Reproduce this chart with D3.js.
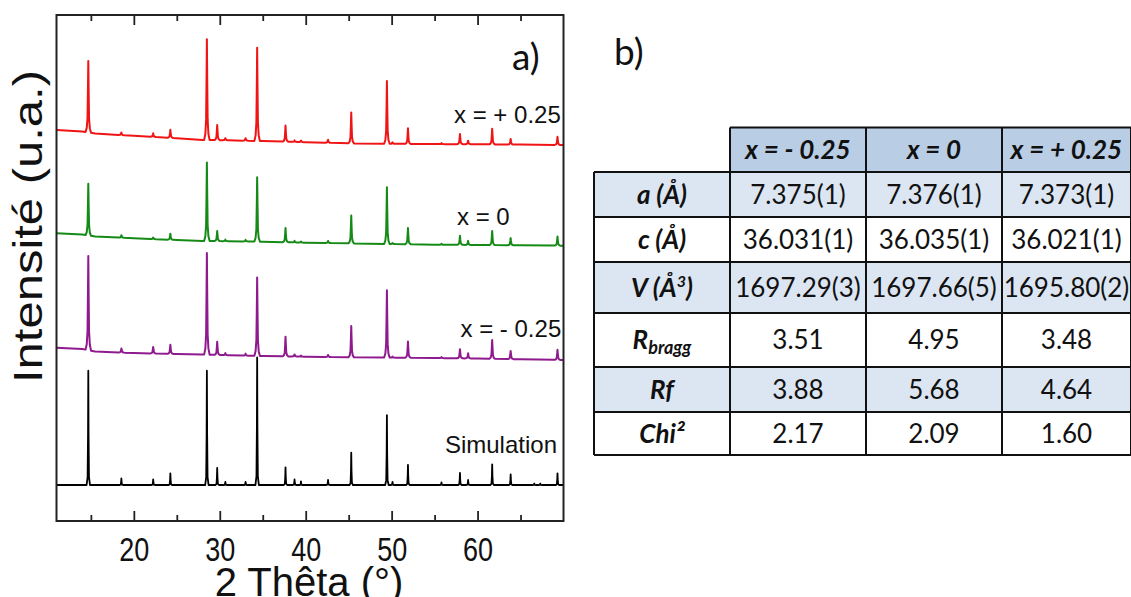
<!DOCTYPE html>
<html>
<head>
<meta charset="utf-8">
<script src="https://cdn.jsdelivr.net/npm/d3@7"></script>
<style>
  html, body { margin: 0; padding: 0; background: #fff; }
  svg { display: block; }
</style>
</head>
<body>
<svg id="chart" width="1131" height="597"></svg>
<script>
// ---------------- DATA ----------------
// Peak positions (2 Theta, degrees)
const twoTheta = [14.7, 18.55, 22.25, 24.25, 28.5, 29.7, 30.65, 33.0, 34.35, 37.65, 38.7, 39.45, 42.6, 45.3, 49.45, 50.1, 51.9, 55.8, 57.95, 58.9, 61.7, 63.85, 66.6, 67.3, 69.3];
// Peak heights above background (a.u.) for each pattern
const simHeights   = [22.6, 1.3, 1.1, 2.3, 22.6, 3.4, 0.6, 0.6, 25.2, 3.5, 1.1, 0.7, 1.0, 6.4, 13.8, 0.6, 4.0, 0.5, 2.4, 1.0, 4.1, 2.1, 0.3, 0.3, 2.3];
const minusHeights = [18.6, 0.8, 1.3, 1.8, 20.1, 2.6, 0.4, 0.4, 15.5, 3.9, 0.4, 0.2, 0.4, 6.2, 13.3, 0.2, 3.2, 0.2, 1.8, 1.0, 3.7, 1.6, 0, 0, 2.0];
const zeroHeights  = [10.2, 0.5, 0.3, 1.2, 15.5, 2.0, 0.3, 0.3, 12.7, 2.8, 0.3, 0.2, 0.4, 5.5, 11.2, 0.2, 3.2, 0.2, 1.8, 0.8, 2.8, 1.4, 0, 0, 1.8];
const plusHeights  = [14.1, 0.5, 0.7, 1.6, 19.9, 3.0, 0.4, 0.5, 18.4, 3.2, 0.3, 0.3, 0.6, 6.1, 12.4, 0.3, 3.1, 0.2, 2.0, 0.7, 3.1, 1.1, 0, 0, 1.6];
// Background (stacked offset included), read at these 2 Theta positions
const bgTheta = [11, 14, 15.5, 20, 25, 28, 31, 35, 40, 45, 50, 55, 60, 65, 70];
const simBg   = [7.11, 7.11, 7.11, 7.11, 7.11, 7.11, 7.11, 7.11, 7.11, 7.11, 7.11, 7.11, 7.11, 7.11, 7.11];
const minusBg = [34.25, 33.99, 33.50, 33.20, 33.00, 32.89, 32.77, 32.61, 32.47, 32.35, 32.29, 32.21, 32.11, 31.96, 31.82];
const zeroBg  = [56.86, 56.62, 56.23, 55.87, 55.53, 55.34, 55.30, 55.20, 55.00, 54.88, 54.74, 54.61, 54.55, 54.49, 54.41];
const plusBg  = [77.27, 76.98, 76.58, 76.13, 75.65, 75.30, 75.24, 75.08, 74.86, 74.64, 74.55, 74.49, 74.45, 74.39, 74.31];
const seriesLabels = ["Simulation", "x = - 0.25", "x = 0", "x = + 0.25"];
const majorTicks = [20, 30, 40, 50, 60];
const minorTicks = [15, 25, 35, 45, 55, 65];

// Table
const tableHeaders = ["x = - 0.25", "x = 0", "x = + 0.25"];
const rowLabels = [
  [{t: "a (Å)"}],
  [{t: "c (Å)"}],
  [{t: "V (Å"}, {t: "3", sup: true}, {t: ")"}],
  [{t: "R"}, {t: "bragg", sub: true}],
  [{t: "Rf"}],
  [{t: "Chi²"}]
];
const aParam   = ["7.375(1)", "7.376(1)", "7.373(1)"];
const cParam   = ["36.031(1)", "36.035(1)", "36.021(1)"];
const vParam   = ["1697.29(3)", "1697.66(5)", "1695.80(2)"];
const rBragg   = ["3.51", "4.95", "3.48"];
const rF       = ["3.88", "5.68", "4.64"];
const chi2     = ["2.17", "2.09", "1.60"];

// ---------------- LAYOUT ----------------
const svg = d3.select("#chart");
const P = {left: 56.5, right: 563.5, top: 15, bottom: 521};
const x = d3.scaleLinear().domain([11, 70]).range([P.left, P.right]);
const y = d3.scaleLinear().domain([0, 100]).range([P.bottom, P.top]);

svg.append("defs").append("clipPath").attr("id", "plotclip")
  .append("rect").attr("x", P.left).attr("y", P.top)
  .attr("width", P.right - P.left).attr("height", P.bottom - P.top);

const expShape = [[-0.32, 0], [-0.18, 0.06], [-0.09, 0.2], [-0.04, 0.6], [0, 1], [0.04, 0.6], [0.09, 0.2], [0.18, 0.06], [0.32, 0]];
const simShape = [[-0.2, 0], [-0.08, 0.07], [-0.03, 0.45], [0, 1], [0.03, 0.45], [0.08, 0.07], [0.2, 0]];

function buildTrace(heights, bgVals, shape) {
  const bg = d3.scaleLinear().domain(bgTheta).range(bgVals);
  const lo = shape[0][0], hi = shape[shape.length - 1][0];
  const pts = [];
  bgTheta.forEach((t, i) => {
    const inside = twoTheta.some((p, j) => heights[j] > 0 && t >= p + lo && t <= p + hi);
    if (!inside) pts.push([t, bgVals[i]]);
  });
  twoTheta.forEach((p, i) => {
    if (heights[i] <= 0) return;
    shape.forEach(([dx, f]) => pts.push([p + dx, bg(p + dx) + f * heights[i]]));
  });
  pts.sort((a, b) => a[0] - b[0]);
  return pts;
}

const line = d3.line().x(d => x(d[0])).y(d => y(d[1]));
const series = [
  {h: simHeights, bg: simBg, color: "#000000", shape: simShape, w: 1.8},
  {h: minusHeights, bg: minusBg, color: "#8e1a8e", shape: expShape, w: 2},
  {h: zeroHeights, bg: zeroBg, color: "#168a16", shape: expShape, w: 2},
  {h: plusHeights, bg: plusBg, color: "#f01414", shape: expShape, w: 2}
];
const gTraces = svg.append("g").attr("clip-path", "url(#plotclip)");
series.forEach(s => {
  gTraces.append("path")
    .attr("d", line(buildTrace(s.h, s.bg, s.shape)))
    .attr("fill", "none").attr("stroke", s.color)
    .attr("stroke-width", s.w).attr("stroke-linejoin", "round");
});

// Axes
const axFont = "'Liberation Sans', Arial, sans-serif";
const gB = svg.append("g").attr("transform", `translate(0,${P.bottom})`)
  .call(d3.axisBottom(x).tickValues(majorTicks).tickSize(-10).tickSizeOuter(0).tickFormat(d3.format("d")));
gB.selectAll("text").attr("y", 0).attr("dy", 0)
  .attr("transform", "translate(0,40) scale(1,1.24)")
  .style("font-family", axFont).style("font-size", "27px").attr("fill", "#111");
const gBm = svg.append("g").attr("transform", `translate(0,${P.bottom})`)
  .call(d3.axisBottom(x).tickValues(minorTicks).tickSize(-6).tickSizeOuter(0).tickFormat(""));
const gT = svg.append("g").attr("transform", `translate(0,${P.top})`)
  .call(d3.axisTop(x).tickValues(majorTicks).tickSize(-10).tickSizeOuter(0).tickFormat(""));
const gTm = svg.append("g").attr("transform", `translate(0,${P.top})`)
  .call(d3.axisTop(x).tickValues(minorTicks).tickSize(-6).tickSizeOuter(0).tickFormat(""));
[gB, gBm, gT, gTm].forEach(g => {
  g.select(".domain").remove();
  g.selectAll("line").attr("stroke", "#222").attr("stroke-width", 1.8);
});
svg.append("rect").attr("x", P.left).attr("y", P.top)
  .attr("width", P.right - P.left).attr("height", P.bottom - P.top)
  .attr("fill", "none").attr("stroke", "#222").attr("stroke-width", 2);

// Axis titles
svg.append("text").attr("x", 309).attr("y", 596).attr("text-anchor", "middle")
  .style("font-family", axFont).style("font-size", "40px").attr("fill", "#111")
  .text("2 Thêta (°)");
svg.append("text").attr("transform", "translate(42,226.5) rotate(-90)")
  .attr("text-anchor", "middle").attr("textLength", 313).attr("lengthAdjust", "spacingAndGlyphs")
  .style("font-family", axFont).style("font-size", "40px").attr("fill", "#111")
  .text("Intensité (u.a.)");

// Series labels
const labelPos = [
  {x: 557, y: 453, anchor: "end"},
  {x: 460.5, y: 337, anchor: "start"},
  {x: 457, y: 225, anchor: "start"},
  {x: 454, y: 123, anchor: "start"}
];
seriesLabels.forEach((t, i) => {
  svg.append("text").attr("x", labelPos[i].x).attr("y", labelPos[i].y)
    .attr("text-anchor", labelPos[i].anchor)
    .style("font-family", axFont).style("font-size", "24px").attr("fill", "#111")
    .text(t);
});

// Panel labels
const tFont = "Lato, 'Open Sans', sans-serif";
svg.append("text").attr("x", 512).attr("y", 70).style("font-family", tFont)
  .style("font-size", "37px").attr("fill", "#111").text("a)");
svg.append("text").attr("x", 614).attr("y", 65).style("font-family", tFont)
  .style("font-size", "37px").attr("fill", "#111").text("b)");

// ---------------- TABLE ----------------
const colEdges = [594, 730, 866, 1002, 1131];
const rowEdges = [127.5, 172, 217, 262, 313, 367, 412, 455];
const rowValues = [aParam, cParam, vParam, rBragg, rF, chi2];
const headFill = "#b9cde5", lightFill = "#dce6f2";
const gTab = svg.append("g");
const fs = 26, base = 9.3;

// header cells
tableHeaders.forEach((h, j) => {
  gTab.append("rect").attr("x", colEdges[j + 1]).attr("y", rowEdges[0])
    .attr("width", colEdges[j + 2] - colEdges[j + 1]).attr("height", rowEdges[1] - rowEdges[0])
    .attr("fill", headFill);
});
// body rows
rowValues.forEach((vals, i) => {
  const fill = (i % 2 === 0) ? lightFill : "#ffffff";
  gTab.append("rect").attr("x", colEdges[0]).attr("y", rowEdges[i + 1])
    .attr("width", colEdges[4] - colEdges[0]).attr("height", rowEdges[i + 2] - rowEdges[i + 1])
    .attr("fill", fill);
});
// grid lines
const gridStroke = "#111";
rowEdges.forEach((ry, i) => {
  const x0 = i === 0 ? colEdges[1] : colEdges[0];
  gTab.append("line").attr("x1", x0).attr("x2", colEdges[4]).attr("y1", ry).attr("y2", ry)
    .attr("stroke", gridStroke).attr("stroke-width", 2);
});
colEdges.forEach((cx, j) => {
  const y0 = j === 0 ? rowEdges[1] : rowEdges[0];
  gTab.append("line").attr("x1", cx).attr("x2", cx).attr("y1", y0).attr("y2", rowEdges[7])
    .attr("stroke", gridStroke).attr("stroke-width", 2);
});
// header text
tableHeaders.forEach((h, j) => {
  gTab.append("text").attr("x", (colEdges[j + 1] + colEdges[j + 2]) / 2)
    .attr("y", (rowEdges[0] + rowEdges[1]) / 2 + base).attr("text-anchor", "middle")
    .style("font-family", tFont).style("font-size", fs + "px").style("font-weight", "bold")
    .style("font-style", "italic").attr("fill", "#111").text(h);
});
// row labels
rowLabels.forEach((segs, i) => {
  const t = gTab.append("text").attr("x", (colEdges[0] + colEdges[1]) / 2)
    .attr("y", (rowEdges[i + 1] + rowEdges[i + 2]) / 2 + base).attr("text-anchor", "middle")
    .style("font-family", tFont).style("font-size", fs + "px").style("font-weight", "bold")
    .style("font-style", "italic").attr("fill", "#111");
  segs.forEach((s, k) => {
    const ts = t.append("tspan").text(s.t);
    if (s.sup) ts.attr("dy", -10).style("font-size", "16px");
    if (s.sub) ts.attr("dy", 5).style("font-size", "18px");
    if (k > 0 && segs[k - 1].sup && !s.sup) ts.attr("dy", 10);
  });
});
// values
rowValues.forEach((vals, i) => {
  vals.forEach((v, j) => {
    gTab.append("text").attr("x", (colEdges[j + 1] + colEdges[j + 2]) / 2)
      .attr("y", (rowEdges[i + 1] + rowEdges[i + 2]) / 2 + base).attr("text-anchor", "middle")
      .style("font-family", tFont).style("font-size", fs + "px").attr("fill", "#111").text(v);
  });
});
</script>
</body>
</html>
